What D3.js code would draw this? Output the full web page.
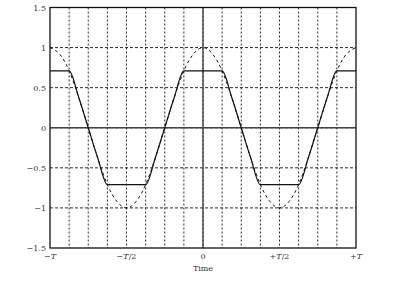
<!DOCTYPE html>
<html>
<head>
<meta charset="utf-8">
<script src="https://cdn.jsdelivr.net/npm/d3@7"></script>
<style>
  body { margin: 0; background: #fff; }
  text { font-family: "DejaVu Serif", "Liberation Serif", serif; fill: #333; }
</style>
</head>
<body>
<div id="canvas"></div>
<script>
// sample times in units of T, one sample every T/16
var times = [-1, -0.9375, -0.875, -0.8125, -0.75, -0.6875, -0.625, -0.5625, -0.5,
             -0.4375, -0.375, -0.3125, -0.25, -0.1875, -0.125, -0.0625, 0,
             0.0625, 0.125, 0.1875, 0.25, 0.3125, 0.375, 0.4375, 0.5,
             0.5625, 0.625, 0.6875, 0.75, 0.8125, 0.875, 0.9375, 1];
// dashed reference wave
var waveValues = [1, 0.92, 0.71, 0.38, 0, -0.38, -0.71, -0.92, -1,
                  -0.92, -0.71, -0.38, 0, 0.38, 0.71, 0.92, 1,
                  0.92, 0.71, 0.38, 0, -0.38, -0.71, -0.92, -1,
                  -0.92, -0.71, -0.38, 0, 0.38, 0.71, 0.92, 1];
// solid clipped wave
var clippedValues = [0.71, 0.71, 0.71, 0.38, 0, -0.38, -0.71, -0.71, -0.71,
                     -0.71, -0.71, -0.38, 0, 0.38, 0.71, 0.71, 0.71,
                     0.71, 0.71, 0.38, 0, -0.38, -0.71, -0.71, -0.71,
                     -0.71, -0.71, -0.38, 0, 0.38, 0.71, 0.71, 0.71];
var yTicks = [-1.5, -1, -0.5, 0, 0.5, 1, 1.5];
var yTickLabels = ["\u22121.5", "\u22121", "\u22120.5", "0", "0.5", "1", "1.5"];
var xGrid = [-1, -0.875, -0.75, -0.625, -0.5, -0.375, -0.25, -0.125, 0,
             0.125, 0.25, 0.375, 0.5, 0.625, 0.75, 0.875, 1];
var xTicks = [-1, -0.5, 0, 0.5, 1];
var xTickLabels = [["\u2212", "T", ""], ["\u2212", "T", "/2"], ["0", "", ""], ["+", "T", "/2"], ["+", "T", ""]];
var xLabel = "Time";

var W = 399, H = 282;
var plotLeft = 50, plotRight = 356, plotTop = 7.5, plotBottom = 248;

var svg = d3.select("#canvas").append("svg").attr("width", W).attr("height", H);

var x = d3.scaleLinear().domain([-1, 1]).range([plotLeft, plotRight]);
var y = d3.scaleLinear().domain([-1.5, 1.5]).range([plotBottom, plotTop]);

// grid
var grid = svg.append("g").attr("name", "grid");
grid.selectAll("line.v").data(xGrid.slice(1, -1)).enter().append("line")
    .attr("x1", d => x(d)).attr("x2", d => x(d))
    .attr("y1", plotTop).attr("y2", plotBottom)
    .attr("stroke", "#111").attr("stroke-width", 0.9)
    .attr("stroke-dasharray", "2,2");
grid.selectAll("line.h").data(yTicks.slice(1, -1)).enter().append("line")
    .attr("x1", plotLeft).attr("x2", plotRight)
    .attr("y1", d => y(d)).attr("y2", d => y(d))
    .attr("stroke", "#111").attr("stroke-width", 0.9)
    .attr("stroke-dasharray", "3,2");

// zero axes
svg.append("line").attr("x1", x(0)).attr("x2", x(0)).attr("y1", plotTop).attr("y2", plotBottom)
    .attr("stroke", "#444").attr("stroke-width", 1.4);
svg.append("line").attr("x1", plotLeft).attr("x2", plotRight).attr("y1", y(0)).attr("y2", y(0))
    .attr("stroke", "#444").attr("stroke-width", 1.4);

var wave = times.map((t, i) => ({t: t, v: waveValues[i]}));
var clipped = times.map((t, i) => ({t: t, v: clippedValues[i]}));

svg.append("path")
    .attr("d", d3.line().x(d => x(d.t)).y(d => y(d.v)).curve(d3.curveNatural)(wave))
    .attr("fill", "none").attr("stroke", "#111").attr("stroke-width", 1)
    .attr("stroke-dasharray", "3,3");

svg.append("path")
    .attr("d", d3.line().x(d => x(d.t)).y(d => y(d.v)).curve(d3.curveMonotoneX)(clipped))
    .attr("fill", "none").attr("stroke", "#111").attr("stroke-width", 1.2);

// frame
svg.append("rect").attr("x", plotLeft).attr("y", plotTop)
    .attr("width", plotRight - plotLeft).attr("height", plotBottom - plotTop)
    .attr("fill", "none").attr("stroke", "#111").attr("stroke-width", 1.3);

// y tick labels
svg.selectAll("text.y").data(yTicks).enter().append("text")
    .attr("x", plotLeft - 4).attr("y", d => y(d) + 3)
    .attr("text-anchor", "end").style("font-size", "8px")
    .text((d, i) => yTickLabels[i]);

// x tick labels
var xt = svg.selectAll("text.x").data(xTicks).enter().append("text")
    .attr("x", d => x(d)).attr("y", plotBottom + 11)
    .attr("text-anchor", "middle").style("font-size", "8px");
xt.append("tspan").text((d, i) => xTickLabels[i][0]);
xt.append("tspan").style("font-style", "italic").text((d, i) => xTickLabels[i][1]);
xt.append("tspan").text((d, i) => xTickLabels[i][2]);

svg.append("text").attr("x", x(0)).attr("y", plotBottom + 23)
    .attr("text-anchor", "middle").style("font-size", "8px").text(xLabel);
</script>
</body>
</html>
